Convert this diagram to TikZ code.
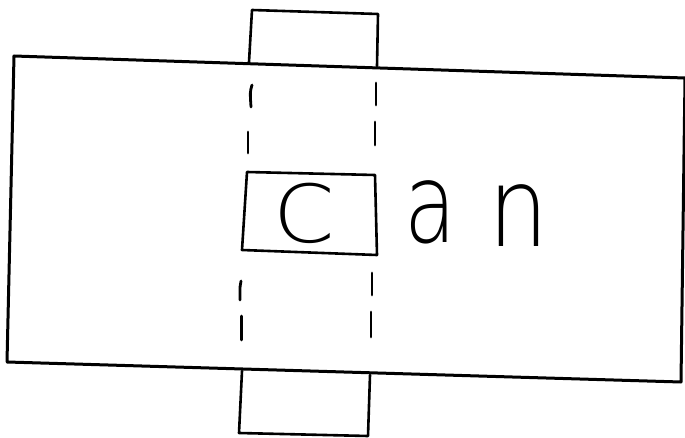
\documentclass[tikz,border=0pt]{standalone}
\usepackage{fontspec}
\setmainfont{DejaVu Sans}
\newfontfamily\thinfont{DejaVu Sans ExtraLight}
\begin{document}
\begin{tikzpicture}[x=1pt,y=-1pt,line join=round,line cap=round,
  frame/.style={line width=3pt},
  tab/.style={line width=2.6pt},
  seg/.style={line width=2.8pt},
  letter/.style={inner sep=0pt,anchor=base west}]
\useasboundingbox (0,0) rectangle (685,438);
% main strip
\draw[frame] (14,56) -- (685,78) -- (681,382) -- (7,362) -- cycle;
% top tab
\draw[tab] (249,62) -- (252,10) -- (378,14) -- (377,66);
% bottom tab
\draw[tab] (242,371) -- (239,433) -- (368,436) -- (370,375);
% window
\draw[tab] (247,172) -- (375,175) -- (377,255) -- (242,250) -- cycle;
% dashed guide lines (hand drawn)
\draw[seg] (252,85) .. controls (250,92) .. (251,107);
\draw[seg] (248,132) -- (248,153);
\draw[seg] (241,281) .. controls (240,285) .. (240,300);
\draw[seg] (241.5,316) -- (241.5,340);
\draw[seg] (376,83) -- (376,105);
\draw[seg] (375,122) -- (375,145);
\draw[seg] (372,273) -- (372,295);
\draw[seg] (371,312) -- (371,337);
% letters
\node[letter,xscale=1.1] (c) at (273,243) {\thinfont\fontsize{80}{80}\selectfont C};
\node[letter,yscale=1.3] (a) at (404,243) {\thinfont\fontsize{85}{85}\selectfont a};
\node[letter,xscale=1.12,yscale=1.3] (n) at (488,247) {\thinfont\fontsize{85}{85}\selectfont n};
\end{tikzpicture}
\end{document}
